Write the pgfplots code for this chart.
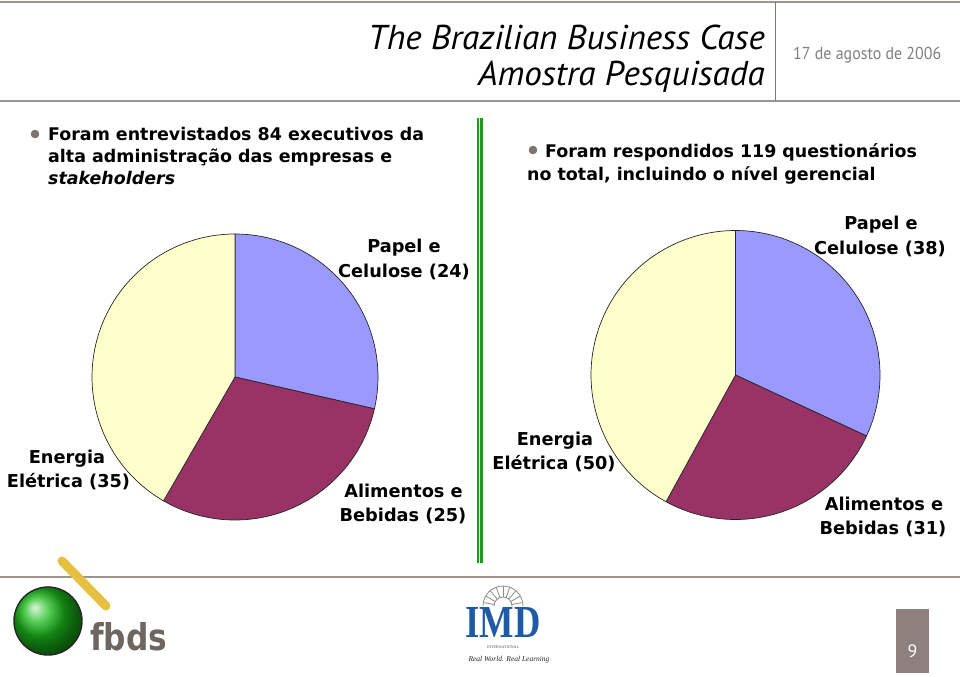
\documentclass[border=0pt]{standalone}
\usepackage{pgfplots}
\pgfplotsset{compat=1.18}
\usepackage{pgfplotstable}
\usepackage{fontspec}
\setmainfont{DejaVu Sans}
\newfontfamily\bodyfont{DejaVu Sans}
\newfontfamily\condfont{DejaVu Sans Condensed}
\newfontfamily\titlefont{PT Sans}
\newfontfamily\imdfont{Liberation Serif}
\definecolor{blueP}{HTML}{9999FF}
\definecolor{maroonP}{HTML}{993366}
\definecolor{yellowP}{HTML}{FFFFCC}
\definecolor{rulegray}{HTML}{9C958F}
\definecolor{bulletgray}{HTML}{7D7670}
\definecolor{greenline}{HTML}{1E9A1E}
\definecolor{fbdsgray}{HTML}{6E6660}
\definecolor{boxgray}{HTML}{8D807D}
\definecolor{imdblue}{HTML}{1F5AA6}
\definecolor{stick}{HTML}{E6C040}
\definecolor{dategray}{HTML}{808080}

% pie data
\pgfplotstableread{
sector value
Papel 24
Alimentos 25
Energia 35
}\pieA
\pgfplotstableread{
sector value
Papel 38
Alimentos 31
Energia 50
}\pieB

\pgfplotstablegetelem{0}{value}\of\pieA \let\Aa\pgfplotsretval
\pgfplotstablegetelem{1}{value}\of\pieA \let\Ab\pgfplotsretval
\pgfplotstablegetelem{2}{value}\of\pieA \let\Ac\pgfplotsretval
\pgfplotstablegetelem{0}{value}\of\pieB \let\Ba\pgfplotsretval
\pgfplotstablegetelem{1}{value}\of\pieB \let\Bb\pgfplotsretval
\pgfplotstablegetelem{2}{value}\of\pieB \let\Bc\pgfplotsretval

\pgfmathsetmacro\At{\Aa+\Ab+\Ac}
\pgfmathsetmacro\AangA{90-360*(\Aa/\At)}
\pgfmathsetmacro\AangB{\AangA-360*(\Ab/\At)}
\pgfmathsetmacro\AangC{\AangB-360*(\Ac/\At)}
\pgfmathsetmacro\Bt{\Ba+\Bb+\Bc}
\pgfmathsetmacro\BangA{90-360*(\Ba/\Bt)}
\pgfmathsetmacro\BangB{\BangA-360*(\Bb/\Bt)}
\pgfmathsetmacro\BangC{\BangB-360*(\Bc/\Bt)}

% slice: cx, cy, r, from, to, colour  (angles in degrees, y axis reversed)
\newcommand{\pieslice}[6]{%
  \addplot[fill=#6, draw=black!85, line width=0.7bp, line join=round,
    domain=#5:#4, samples=90, variable=\t]
    ({#1+#3*cos(t)},{#2-#3*sin(t)}) -- (axis cs:#1,#2) -- cycle;}

\begin{document}
\begin{tikzpicture}
\begin{axis}[width=960bp, height=676bp, scale only axis,
  xmin=0, xmax=960, ymin=0, ymax=676, y dir=reverse,
  hide axis, clip=false]

% ---------- header ----------
\draw[rulegray, line width=2.5bp] (axis cs:0,2) -- (axis cs:960,2);
\draw[rulegray, line width=2.5bp] (axis cs:0,101) -- (axis cs:960,101);
\draw[rulegray!80!black, line width=1bp] (axis cs:775,2) -- (axis cs:775,101);
\node[anchor=base east, inner sep=0pt] at (axis cs:765,50)
  {\scalebox{1.0}[0.98]{\titlefont\itshape\fontsize{35.3}{35.3}\selectfont The Brazilian Business Case}};
\node[anchor=base east, inner sep=0pt] at (axis cs:765,86)
  {\scalebox{1.0}[0.98]{\titlefont\itshape\fontsize{35.3}{35.3}\selectfont Amostra Pesquisada}};
\node[anchor=base west, inner sep=0pt, text=dategray] at (axis cs:793,60)
  {\scalebox{0.97}[1.05]{\titlefont\fontsize{16.5}{16.5}\selectfont 17 de agosto de 2006}};

% ---------- green separator ----------
\draw[greenline, line width=2.5bp] (axis cs:478,118) -- (axis cs:478,563);
\draw[greenline, line width=2.3bp] (axis cs:481.6,118) -- (axis cs:481.6,563);

% ---------- bullets / text ----------
\fill[bulletgray] (axis cs:35,134) circle[radius=4.3bp];
\begin{scope}[every node/.style={anchor=base west, inner sep=0pt,
  font=\bodyfont\bfseries\fontsize{17.5}{17.5}\selectfont}]
\node at (axis cs:48,140) {Foram entrevistados 84 executivos da};
\node at (axis cs:48,162) {alta administração das empresas e};
\node at (axis cs:48,184) {\itshape stakeholders};
\fill[bulletgray] (axis cs:533,150) circle[radius=4.3bp];
\node at (axis cs:545,157) {Foram respondidos 119 questionários};
\node at (axis cs:527,180) {no total, incluindo o nível gerencial};
\end{scope}

% ---------- pie 1 ----------
\pieslice{235}{377}{143}{90}{\AangA}{blueP}
\pieslice{235}{377}{143}{\AangA}{\AangB}{maroonP}
\pieslice{235}{377}{143}{\AangB}{\AangC}{yellowP}

% ---------- pie 2 ----------
\pieslice{735.5}{375}{144.5}{90}{\BangA}{blueP}
\pieslice{735.5}{375}{144.5}{\BangA}{\BangB}{maroonP}
\pieslice{735.5}{375}{144.5}{\BangB}{\BangC}{yellowP}

% ---------- pie labels ----------
\begin{scope}[every node/.style={anchor=base, inner sep=0pt,
  font=\bodyfont\bfseries\fontsize{17.8}{17.8}\selectfont}]
\node at (axis cs:404,252) {Papel e};
\node at (axis cs:404,277) {Celulose (24)};
\node at (axis cs:67,463) {Energia};
\node at (axis cs:68.5,487) {Elétrica (35)};
\node at (axis cs:403.5,497) {Alimentos e};
\node at (axis cs:403,521) {Bebidas (25)};
\node at (axis cs:881,229) {Papel e};
\node at (axis cs:880,254) {Celulose (38)};
\node at (axis cs:555,445) {Energia};
\node at (axis cs:554,469) {Elétrica (50)};
\node at (axis cs:884,510) {Alimentos e};
\node at (axis cs:883,534) {Bebidas (31)};
\end{scope}

% ---------- footer ----------
\draw[rulegray, line width=2.2bp] (axis cs:0,577) -- (axis cs:960,577);
% fbds logo
\draw[stick, line width=9bp, line cap=round] (axis cs:62,561) -- (axis cs:106,606);
\shade[ball color=green!70!black!90!white, draw=black!85, line width=1.4bp]
  (axis cs:48,621) circle[radius=34bp];
\node[anchor=base west, inner sep=0pt, text=fbdsgray] at (axis cs:90,650)
  {\resizebox{77bp}{28bp}{\condfont\bfseries fbds}};
% IMD logo
\pgfplotsinvokeforeach{10,30,50,70,90,110,130,150,170}{
  \draw[black!45, line width=0.8bp] (axis cs:{503+9*cos(#1)},{606-9*sin(#1)}) -- (axis cs:{503+20*cos(#1)},{606-20*sin(#1)});}
\draw[black!45, line width=0.8bp] (axis cs:483,606) arc[start angle=180, end angle=0, radius=20bp];
\draw[black!45, line width=0.8bp] (axis cs:494,606) arc[start angle=180, end angle=0, radius=9bp];
\node[anchor=base, inner sep=0pt, text=imdblue] at (axis cs:503,637)
  {\resizebox{75bp}{30bp}{\imdfont\bfseries IMD}};
\node[anchor=base, inner sep=0pt, text=black!70] at (axis cs:503,648.5)
  {\imdfont\fontsize{4}{4}\selectfont INTERNATIONAL};
\node[anchor=base, inner sep=0pt, text=black!85] at (axis cs:509,661)
  {\imdfont\itshape\fontsize{7.5}{7.5}\selectfont Real World. Real Learning};
% page number
\fill[boxgray] (axis cs:896,609) rectangle (axis cs:929,673);
\node[anchor=base, inner sep=0pt, text=white] at (axis cs:912.5,657)
  {\titlefont\fontsize{18}{18}\selectfont 9};
\end{axis}
\pgfresetboundingbox
\path[use as bounding box] (current axis.south west) rectangle (current axis.north east);
\end{tikzpicture}
\end{document}
